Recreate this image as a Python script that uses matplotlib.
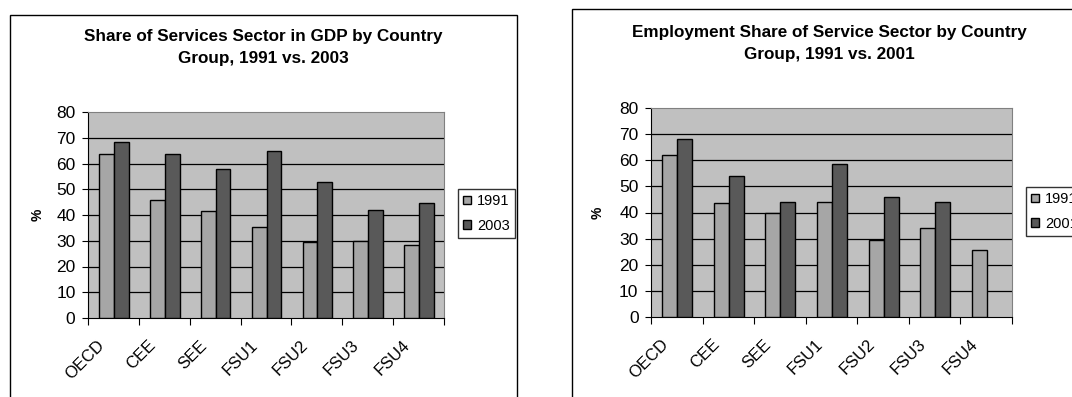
import matplotlib
matplotlib.use("Agg")
import matplotlib.pyplot as plt
import matplotlib.patches as mpatches
import matplotlib.transforms as mtransforms
import numpy as np

plt.rcParams['font.family'] = ['Liberation Sans', 'DejaVu Sans']

groups = ["OECD", "CEE", "SEE", "FSU1", "FSU2", "FSU3", "FSU4"]

gdp_1991 = [63.5, 46.0, 41.5, 35.5, 29.5, 30.0, 28.5]
gdp_2003 = [68.5, 63.5, 58.0, 65.0, 53.0, 42.0, 44.5]

emp_1991 = [62.0, 43.5, 40.0, 44.0, 29.5, 34.0, 25.5]
emp_2001 = [68.0, 54.0, 44.0, 58.5, 46.0, 44.0, np.nan]

light = '#a6a6a6'
dark = '#595959'
W, H = 1072, 397

fig = plt.figure(figsize=(W / 100, H / 100), dpi=100)


def px(x0, y0, x1, y1):
    # pixel box (top-left origin) -> figure fraction rect
    return [x0 / W, 1 - y1 / H, (x1 - x0) / W, (y1 - y0) / H]


def panel(frame, box, title, title_xy, ylab_x, vals_a, vals_b, labels, leg_xy):
    # outer chart border, runs off the bottom of the image
    fig.patches.append(mpatches.Rectangle((frame[0] / W, 1 - frame[3] / H),
                                          (frame[2] - frame[0]) / W,
                                          (frame[3] - frame[1]) / H,
                                          transform=fig.transFigure, fill=False,
                                          edgecolor='black', linewidth=1.0))
    ax = fig.add_axes(px(*box))
    ax.set_facecolor('#c0c0c0')
    x = np.arange(len(groups))
    bw = 0.29
    ax.bar(x + 0.51 - bw / 2, vals_a, bw, color=light, edgecolor='black',
           linewidth=1.0, label=labels[0], zorder=3)
    ax.bar(x + 0.51 + bw / 2, vals_b, bw, color=dark, edgecolor='black',
           linewidth=1.0, label=labels[1], zorder=3)
    ax.set_xlim(0, len(groups))
    ax.set_ylim(0, 80)
    ax.set_yticks(range(0, 81, 10))
    for v in range(10, 80, 10):
        ax.axhline(v, color='black', linewidth=0.9, zorder=1)

    # tick marks between groups, rotated names under each group
    ax.set_xticks(range(0, len(groups) + 1))
    ax.set_xticklabels([])
    ax.tick_params(axis='x', length=5, direction='out')
    ax.tick_params(axis='y', length=4, direction='out', labelsize=12.5, pad=5)
    shift = mtransforms.ScaledTranslation(-11 / 100, -25 / 100, fig.dpi_scale_trans)
    trans = ax.get_xaxis_transform() + shift
    for i, name in enumerate(groups):
        ax.text(i + 0.5, 0, name, transform=trans, rotation=45, ha='right',
                va='center', rotation_mode='anchor', fontsize=12, clip_on=False)
    for s in ['top', 'right']:
        ax.spines[s].set_color('#808080')
    for s in ['left', 'bottom']:
        ax.spines[s].set_color('black')

    fig.text(title_xy[0] / W, 1 - title_xy[1] / H, title, ha='center',
             va='top', fontsize=12.3, fontweight='bold', linespacing=1.6)
    fig.text(ylab_x / W, 1 - (box[1] + box[3]) / 2 / H, '%', rotation=90,
             ha='center', va='center', fontsize=10, fontweight='bold')

    handles = [mpatches.Patch(facecolor=light, edgecolor='black', label=labels[0]),
               mpatches.Patch(facecolor=dark, edgecolor='black', label=labels[1])]
    fig.legend(handles=handles, loc='upper left',
               bbox_to_anchor=(leg_xy[0] / W, 1 - leg_xy[1] / H),
               frameon=True, fancybox=False, edgecolor='black', fontsize=10.5,
               handlelength=0.55, handleheight=0.55, handletextpad=0.4,
               borderpad=0.35, labelspacing=0.75, borderaxespad=0)
    return ax


panel((10, 15, 517, 420), (88, 112, 444, 318),
      'Share of Services Sector in GDP by Country\nGroup, 1991 vs. 2003',
      (263.5, 29), 38, gdp_1991, gdp_2003, ['1991', '2003'], (458, 189))
panel((572, 9, 1100, 420), (651, 108, 1012, 317),
      'Employment Share of Service Sector by Country\nGroup, 1991 vs. 2001',
      (829, 25), 598, emp_1991, emp_2001, ['1991', '2001'], (1026, 187))

fig.savefig('out.png', dpi=100)
